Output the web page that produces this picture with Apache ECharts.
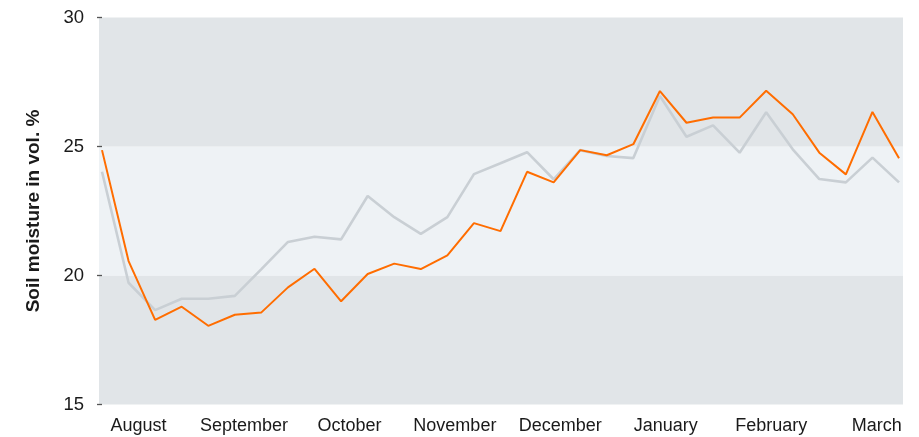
<!DOCTYPE html>
<html>
<head>
<meta charset="utf-8">
<script src="https://cdn.jsdelivr.net/npm/echarts@6/dist/echarts.min.js"></script>
<style>html,body{margin:0;padding:0;background:#fff}#c{width:919px;height:437px}</style>
</head>
<body>
<div id="c"></div>
<script>
var monthLabels = ['August','September','October','November','December','January','February','March'];
var orangeValues = [24.86,20.56,18.28,18.79,18.05,18.48,18.57,19.54,20.26,19.0,20.06,20.46,20.25,20.78,22.03,21.72,24.02,23.61,24.86,24.66,25.09,27.15,25.92,26.12,26.12,27.16,26.25,24.76,23.92,26.34,24.54];
var grayValues = [24.02,19.72,18.66,19.1,19.1,19.21,20.25,21.3,21.5,21.4,23.08,22.26,21.61,22.26,23.93,24.35,24.78,23.73,24.86,24.63,24.55,26.96,25.38,25.82,24.76,26.33,24.89,23.74,23.61,24.57,23.61];
var yTicks = [15,20,25,30];

// label slots: month labels placed on a fine category grid
var slotCount = 62;
var labelSlots = [];
for (var i = 0; i < slotCount; i++) labelSlots.push('');
monthLabels.forEach(function (m, k) { labelSlots[3 + 8 * k] = m; });

function pairs(arr) { return arr.map(function (v, i) { return [i, v]; }); }

var chart = echarts.init(document.getElementById('c'));
chart.setOption({
  animation: false,
  grid: { left: 99, right: 16, top: 17.5, bottom: 32.5, containLabel: false },
  xAxis: [{
    type: 'value', min: -0.113, max: 30.15,
    show: false, splitLine: { show: false }
  }, {
    type: 'category', data: labelSlots, boundaryGap: false, position: 'bottom',
    axisLine: { show: false }, axisTick: { show: false }, splitLine: { show: false },
    axisLabel: {
      interval: 0, margin: 13, color: '#1a1a1a', fontSize: 18,
      fontFamily: 'Liberation Sans, Arial, sans-serif'
    }
  }],
  yAxis: {
    type: 'value', min: yTicks[0], max: yTicks[yTicks.length - 1], interval: 5,
    offset: 6,
    name: 'Soil moisture in vol. %', nameLocation: 'middle', nameGap: 50,
    nameTextStyle: { fontSize: 19, fontWeight: 'bold', color: '#1a1a1a', fontFamily: 'Liberation Sans, Arial, sans-serif' },
    axisLine: { show: false },
    axisTick: { show: true, length: 5, lineStyle: { color: '#555', width: 1.3 } },
    axisLabel: { margin: 9, fontSize: 18.5, color: '#1a1a1a', fontFamily: 'Liberation Sans, Arial, sans-serif' },
    splitLine: { show: false },
    splitArea: { show: true, areaStyle: { color: ['#e1e5e8', '#eef2f5'] } }
  },
  series: [{
    type: 'line', xAxisIndex: 0, data: pairs(grayValues), symbol: 'none',
    lineStyle: { color: '#c9cfd4', width: 2.6 }, z: 2
  }, {
    type: 'line', xAxisIndex: 0, data: pairs(orangeValues), symbol: 'none',
    lineStyle: { color: '#ff6d00', width: 2 }, z: 3
  }]
});
</script>
</body>
</html>
